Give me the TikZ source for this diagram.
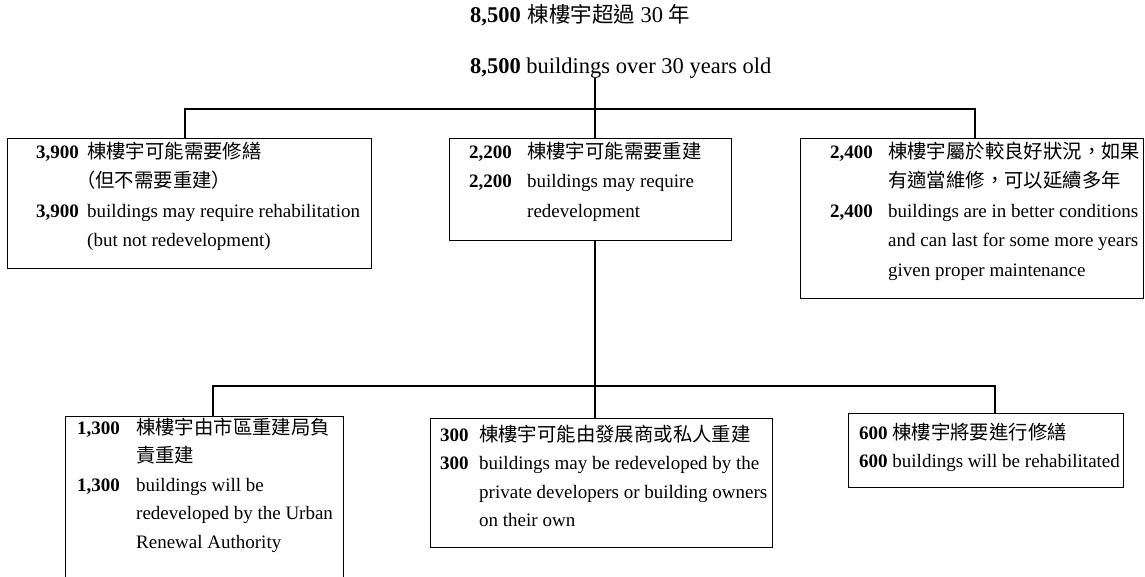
\documentclass[tikz,border=0pt]{standalone}
\usepackage{fontspec}
\setmainfont{Liberation Serif}
\newfontfamily\cjk[Scale=1.02]{Noto Sans CJK TC}
\newcommand\nb[2]{\makebox[#1][l]{\textbf{#2}}}
\begin{document}
\begin{tikzpicture}[x=1pt,y=-1pt,
  box/.style={draw, line width=1.1pt, rectangle, inner sep=0pt, anchor=north west},
  txt/.style={inner sep=0pt, anchor=base west, font=\fontsize{19}{29.5}\selectfont},
  txtb/.style={inner sep=0pt, anchor=base west, font=\fontsize{19}{28.5}\selectfont},
  ttl/.style={inner sep=0pt, anchor=base west, font=\fontsize{22.5}{27}\selectfont},
  link/.style={line width=1.1pt}]
\useasboundingbox (0,0) rectangle (1145,576);

% titles
\node[ttl] (T1) at (470,22) {\textbf{8,500}\hspace{7pt}{\cjk\fontsize{21}{25}\selectfont 棟樓宇超過} 30 {\cjk\fontsize{21}{25}\selectfont 年}};
\node[ttl] (T2) at (470,73) {\textbf{8,500} buildings over 30 years old};

% boxes
\node[box, minimum width=364pt, minimum height=130pt] (L1) at (7,138) {};
\node[box, minimum width=282pt, minimum height=102pt] (M1) at (449,138) {};
\node[box, minimum width=343pt, minimum height=160pt] (R1) at (800,138) {};
\node[box, minimum width=278pt, minimum height=180pt] (L2) at (65,416) {};
\node[box, minimum width=342pt, minimum height=129pt] (M2) at (430,418) {};
\node[box, minimum width=275pt, minimum height=74pt] (R2) at (848,413) {};

% box texts
\node[txt] (L1t) at (36,158) {\begin{tabular}[t]{@{}l@{}}
\nb{51pt}{3,900}{\cjk 棟樓宇可能需要修繕}\\
\hspace*{40pt}{\cjk （但不需要重建）}\\
\nb{51pt}{3,900}buildings may require rehabilitation\\
\hspace*{51pt}(but not redevelopment)
\end{tabular}};

\node[txt] (M1t) at (469,158) {\begin{tabular}[t]{@{}l@{}}
\nb{58pt}{2,200}{\cjk 棟樓宇可能需要重建}\\
\nb{58pt}{2,200}buildings may require\\
\hspace*{58pt}redevelopment
\end{tabular}};

\node[txt] (R1t) at (830,158) {\begin{tabular}[t]{@{}l@{}}
\nb{58pt}{2,400}{\cjk 棟樓宇屬於較良好狀況，如果}\\
\hspace*{58pt}{\cjk 有適當維修，可以延續多年}\\
\nb{58pt}{2,400}buildings are in better conditions\\
\hspace*{58pt}and can last for some more years\\
\hspace*{58pt}given proper maintenance
\end{tabular}};

\node[txtb] (L2t) at (77,434) {\begin{tabular}[t]{@{}l@{}}
\nb{59pt}{1,300}{\cjk 棟樓宇由市區重建局負}\\
\hspace*{59pt}{\cjk 責重建}\\
\nb{59pt}{1,300}buildings will be\\
\hspace*{59pt}redeveloped by the Urban\\
\hspace*{59pt}Renewal Authority
\end{tabular}};

\node[txtb] (M2t) at (440,441) {\begin{tabular}[t]{@{}l@{}}
\nb{39pt}{300}{\cjk 棟樓宇可能由發展商或私人重建}\\
\nb{39pt}{300}buildings may be redeveloped by the\\
\hspace*{39pt}private developers or building owners\\
\hspace*{39pt}on their own
\end{tabular}};

\node[txtb] (R2t) at (859,439) {\begin{tabular}[t]{@{}l@{}}
\textbf{600} {\cjk 棟樓宇將要進行修繕}\\
\textbf{600} buildings will be rehabilitated
\end{tabular}};

% connectors
\coordinate (bt) at (595,109);
\coordinate (bb) at (595,386);
\coordinate (cL1) at (185,0);
\coordinate (cR1) at (975,0);
\coordinate (cL2) at (213,0);
\coordinate (cR2) at (995,0);

\draw[link] (T2.south -| bt) -- (bt) -- (M1.north -| bt);
\draw[link] (L1.north -| cL1) |- (bt) -| (R1.north -| cR1);
\draw[link] (M1.south -| bb) -- (bb) -- (M2.north -| bb);
\draw[link] (L2.north -| cL2) |- (bb) -| (R2.north -| cR2);
\end{tikzpicture}
\end{document}
